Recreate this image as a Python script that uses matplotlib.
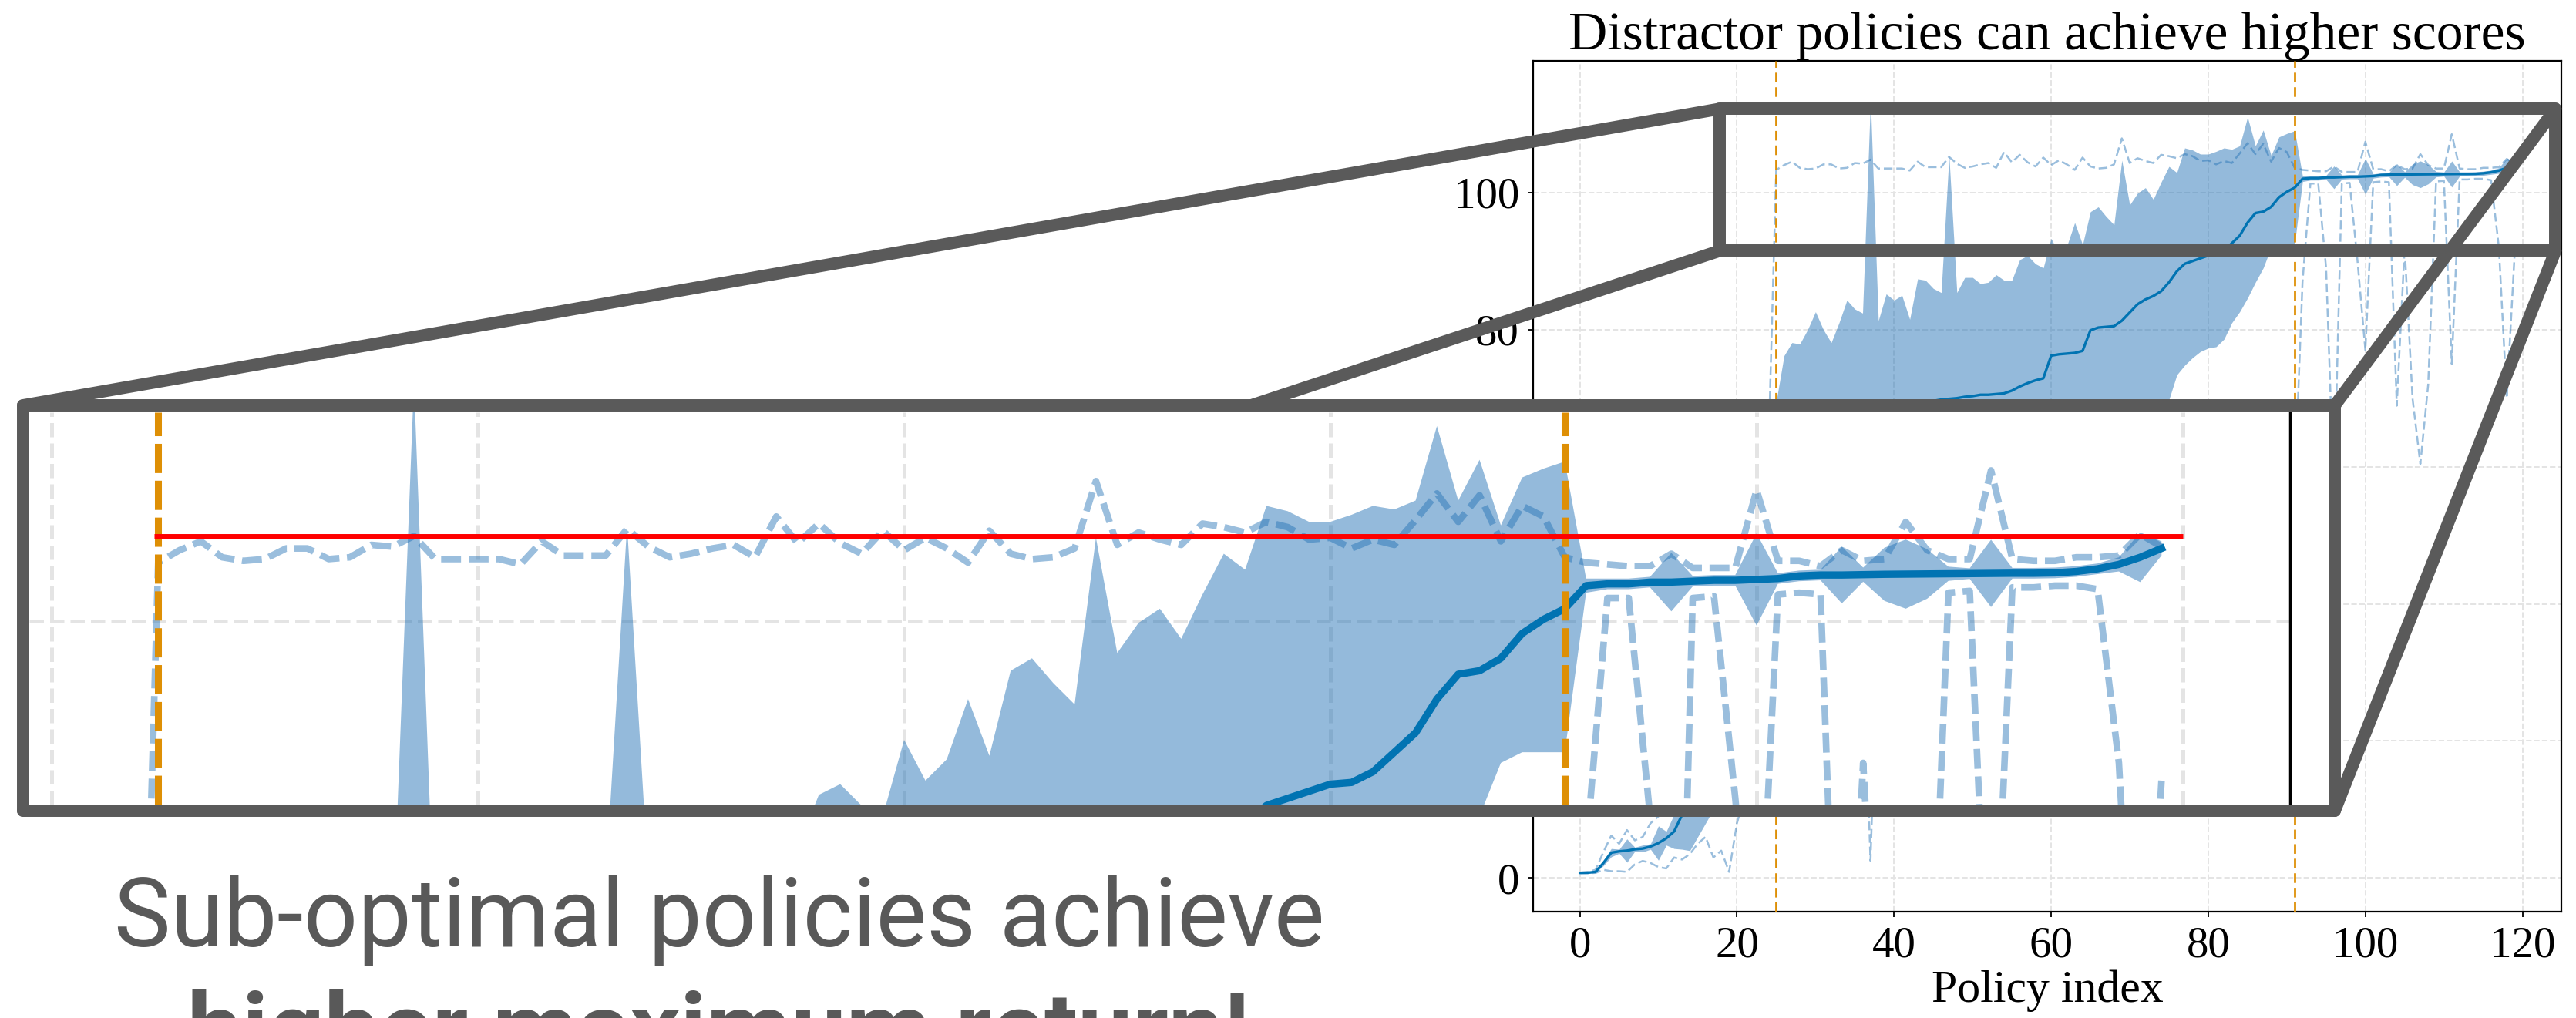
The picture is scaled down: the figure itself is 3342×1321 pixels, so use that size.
import numpy as np
import matplotlib
matplotlib.use("Agg")
import matplotlib.pyplot as plt
from matplotlib.lines import Line2D
from matplotlib.patches import Rectangle
from matplotlib.ticker import MultipleLocator

W, H, DPI = 3342, 1321, 100

policy = np.arange(120)

mean_return = [
    0.76, 0.78, 0.9, 2.2, 3.7, 3.9, 4.0, 4.2, 4.3, 4.6, 5.1, 5.8, 6.8, 9.2, 12.5,
    16.0, 19.0, 22.0, 25.0, 28.0, 31.0, 34.0, 38.0, 42.0, 46.0,
    50.0, 52.0, 54.0, 55.5, 57.0, 58.0, 59.0, 60.0, 61.0, 62.0, 63.0, 63.8, 64.5,
    65.2, 66.0, 66.7, 67.3, 67.9, 68.5, 69.2,
    69.6, 69.8, 69.9, 70.0, 70.2, 70.3, 70.5, 70.5, 70.6, 70.7, 71.1, 71.7, 72.2,
    72.6, 72.9,
    76.2, 76.4, 76.5, 76.6, 76.9, 79.9, 80.3, 80.4, 80.5, 81.3, 82.5, 83.7, 84.4,
    84.9, 85.6, 86.9, 88.5, 89.6, 90.0, 90.4, 90.8, 90.9, 91.5, 92.6, 93.7, 95.6,
    97.0, 97.2, 97.9, 99.3, 100.1, 100.7,
    102.0, 102.1, 102.1, 102.2, 102.2, 102.25, 102.3, 102.3, 102.35, 102.4,
    102.55, 102.6, 102.6, 102.62, 102.64, 102.65, 102.66, 102.67, 102.68, 102.69,
    102.7, 102.7, 102.72, 102.8, 102.95, 103.2, 103.6, 104.1,
]

band_upper = [
    0.81, 0.83, 1.0, 2.6, 4.3, 4.2, 5.7, 4.5, 4.8, 5.0, 7.6, 6.8, 9.3, 14.2, 21.0,
    26.0, 30.0, 34.0, 38.0, 42.0, 46.0, 50.0, 55.0, 60.0, 64.0,
    69.5, 76.2, 78.1, 77.9, 80.0, 82.6, 80.0, 78.1, 81.0, 84.3, 83.0, 82.4, 113.5,
    81.3, 85.2, 84.3, 85.0, 81.5, 87.4, 87.2,
    86.0, 85.4, 105.4, 85.4, 87.6, 87.6, 86.7, 86.9, 88.0, 87.2, 87.2, 90.2, 90.8,
    89.6, 89.0,
    93.3, 91.0, 92.2, 95.6, 92.4, 97.2, 97.9, 96.5, 95.3, 104.7, 98.2, 99.9, 100.7,
    99.0, 101.5, 103.8, 102.9, 106.5, 106.2, 105.6, 105.6, 106.0, 106.5, 106.3,
    106.8, 111.0, 106.8, 109.1, 105.4, 108.1, 108.6, 109.0,
    102.4, 102.4, 102.4, 102.5, 103.85, 102.55, 102.6, 102.6, 104.95, 102.7,
    102.85, 102.9, 104.2, 103.02, 104.14, 104.6, 104.06, 103.07, 102.98, 104.59,
    103.0, 103.0, 103.02, 103.1, 103.25, 103.6, 105.0, 104.5,
]

band_lower = [
    0.71, 0.73, 0.8, 1.8, 3.1, 3.6, 2.3, 3.9, 3.8, 4.2, 2.6, 4.8, 4.3, 4.2, 4.0,
    6.0, 8.0, 10.0, 12.0, 14.0, 16.0, 18.0, 21.0, 24.0, 28.0,
    30.5, 27.8, 29.9, 33.1, 34.0, 33.4, 38.0, 41.9, 41.0, 39.7, 43.0, 45.2, 15.5,
    49.1, 46.8, 49.1, 49.6, 54.3, 49.6, 51.2,
    53.2, 54.2, 34.4, 54.6, 52.8, 53.0, 54.3, 54.1, 53.2, 54.2, 55.0, 53.2, 53.6,
    55.6, 56.8,
    58.0, 59.0, 59.5, 58.0, 60.0, 61.0, 62.0, 63.0, 64.0, 60.0, 64.5, 65.0, 66.0,
    67.0, 68.0, 69.8, 73.4, 74.8, 75.9, 76.8, 77.3, 77.5, 78.6, 81.0, 82.6, 84.6,
    86.9, 89.0, 92.0, 92.6, 92.6, 92.6,
    101.6, 101.8, 101.8, 101.9, 100.55, 101.95, 102.0, 102.0, 99.75, 102.1,
    102.25, 102.3, 101.0, 102.22, 101.14, 100.7, 101.26, 102.27, 102.38, 100.79,
    102.4, 102.4, 102.42, 102.5, 102.65, 102.8, 102.2, 103.7,
]

min_return = [
    0.7, 0.7, 0.75, 1.2, 1.0, 1.0, 0.9, 2.0, 2.5, 2.2, 1.6, 1.4, 3.0, 2.7, 3.5,
    5.0, 6.0, 3.0, 4.0, 0.9, 8.0, 12.0, 16.0, 20.0, 25.0,
    20.0, 22.0, 24.0, 26.0, 28.0, 30.0, 32.0, 33.0, 34.0, 35.0, 36.0, 37.0, 2.5,
    38.0, 39.0, 40.0, 41.0, 42.0, 43.0, 44.0,
    45.0, 45.0, 12.0, 46.0, 46.0, 47.0, 47.0, 48.0, 48.0, 49.0, 49.0, 50.0, 50.0,
    51.0, 51.0,
    52.0, 52.0, 53.0, 53.0, 54.0, 54.0, 55.0, 55.0, 56.0, 50.0, 56.0, 57.0, 57.0,
    58.0, 58.0, 59.0, 59.0, 60.0, 60.0, 61.0, 61.0, 62.0, 62.0, 63.0, 63.0, 64.0,
    64.0, 65.0, 65.0, 66.0, 62.0, 57.0,
    87.0, 101.3, 101.3, 89.0, 56.0, 101.3, 101.4, 90.0, 77.0, 101.5,
    101.6, 101.5, 68.9, 92.0, 70.0, 60.4, 72.0, 101.6, 101.7, 75.0,
    101.9, 101.9, 102.0, 102.0, 101.8, 92.0, 70.0, 91.0,
]

max_return = [
    0.8, 0.9, 1.2, 3.8, 6.2, 5.0, 7.0, 5.5, 6.0, 8.0, 9.0, 11.0, 15.0, 20.0, 25.0,
    30.0, 35.0, 40.0, 45.0, 50.0, 52.0, 55.0, 57.0, 60.0, 62.0,
    103.3, 104.0, 104.5, 103.6, 103.4, 103.5, 104.1, 104.1, 103.5, 103.6, 104.3,
    104.2, 104.8, 103.5, 103.5, 103.5, 103.5, 103.2, 104.5, 103.7,
    103.7, 103.7, 105.2, 104.2, 103.6, 103.8, 104.1, 104.3, 103.6, 105.9, 104.4,
    105.5, 104.4, 103.8, 105.1,
    104.0, 104.7, 104.1, 103.3, 105.1, 103.8, 103.5, 103.6, 104.1, 107.9, 104.3,
    105.0, 104.6, 104.3, 105.5, 105.3, 105.0, 105.6, 105.3, 104.6, 104.7, 104.1,
    104.6, 104.3, 105.7, 107.2, 105.6, 107.1, 104.5, 106.5, 105.9, 103.6,
    103.3, 103.2, 103.1, 103.1, 103.8, 103.0, 103.0, 103.0, 107.4, 103.4,
    103.4, 103.1, 104.0, 103.4, 103.5, 105.6, 104.0, 103.5, 103.5, 108.5,
    103.5, 103.4, 103.4, 103.6, 103.6, 103.7, 104.9, 104.2,
]

group_edges = [25, 91]
best_return = 104.8
best_span = (24.8, 120.0)

MEAN_C = "#0173b2"
BAND_C = "#1f6fb4"
EDGE_C = "#de8f05"
FRAME_C = "#5a5a5a"
GRID_C = "#e4e4e4"
SERIF = "Liberation Serif"


def draw_returns(ax, mean_lw=2.4, dash_lw=1.8, edge_lw=2.0, dash=(4.5, 2.0),
                 edge_dash=(4.5, 2.3), grid_lw=1.4):
    ax.grid(True, color=GRID_C, linestyle="--", linewidth=grid_lw, zorder=0)
    ax.set_axisbelow(True)
    ax.fill_between(policy, band_lower, band_upper, color=BAND_C, alpha=0.48,
                    linewidth=0, zorder=2)
    for series in (min_return, max_return):
        ax.plot(policy, series, color=BAND_C, alpha=0.45, linewidth=dash_lw,
                linestyle=(0, dash), zorder=3)
    ax.plot(policy, mean_return, color=MEAN_C, linewidth=mean_lw, zorder=4)
    for edge in group_edges:
        ax.axvline(edge, color=EDGE_C, linewidth=edge_lw,
                   linestyle=(0, edge_dash), zorder=5)
    ax.xaxis.set_major_locator(MultipleLocator(20))
    ax.yaxis.set_major_locator(MultipleLocator(20))


fig = plt.figure(figsize=(W / DPI, H / DPI), dpi=DPI)

# main panel
ax = fig.add_axes([1989 / W, 1 - 1183 / H, (3323 - 1989) / W, (1183 - 79) / H])
draw_returns(ax)
ax.set_xlim(-5.95, 124.95)
ax.set_ylim(-4.9, 119.2)
for sp in ax.spines.values():
    sp.set_linewidth(1.6)
    sp.set_color("black")
ax.tick_params(labelsize=41, length=5, width=1.3, pad=8)
for lab in ax.get_xticklabels() + ax.get_yticklabels():
    lab.set_family(SERIF)
ax.set_title("Distractor policies can achieve higher scores", fontsize=50,
             family=SERIF, pad=10)
ax.set_xlabel("Policy index", fontsize=43, family=SERIF, labelpad=4)

# zoomed panel, drawn over the left part of the figure
axz = fig.add_axes([38 / W, 1 - 1044 / H, (2971 - 38) / W, (1044 - 535) / H])
axz.set_zorder(3)
draw_returns(axz, mean_lw=6.8, dash_lw=6.2, edge_lw=6.5, dash=(3.0, 1.15),
             edge_dash=(4.2, 1.1), grid_lw=3.6)
axz.hlines(best_return, *best_span, color="red", linewidth=5, zorder=6)
axz.set_xlim(18.95, 125.03)
axz.set_ylim(89.65, 111.78)
axz.tick_params(left=False, bottom=False, labelleft=False, labelbottom=False)
for side in ("left", "top", "bottom"):
    axz.spines[side].set_visible(False)
axz.spines["right"].set_linewidth(2.5)


def to_fig(x, y):
    return x / W, 1 - y / H


# source box on the main panel, in its data coordinates
src = (ax.transData + fig.transFigure.inverted()).transform(
    [(17.8, 91.5), (124.2, 112.2)])
(sx0, sy0), (sx1, sy1) = src
# zoomed panel frame, figure pixels
zx0, zy0 = to_fig(30, 1052)
zx1, zy1 = to_fig(3029, 526)

frame_lw = 11.5
fig.patches.append(Rectangle((sx0, sy0), sx1 - sx0, sy1 - sy0, transform=fig.transFigure,
                             fill=False, edgecolor=FRAME_C, linewidth=frame_lw,
                             joinstyle="round", zorder=1.5))
for (ax0, ay0), (bx0, by0) in [((zx0, zy1), (sx0, sy1)), ((zx0, zy0), (sx0, sy0)),
                               ((zx1, zy1), (sx1, sy1)), ((zx1, zy0), (sx1, sy0))]:
    fig.lines.append(Line2D([ax0, bx0], [ay0, by0], transform=fig.transFigure,
                            color=FRAME_C, linewidth=frame_lw,
                            solid_capstyle="round", zorder=1.5))
fig.patches.append(Rectangle((zx0, zy0), zx1 - zx0, zy1 - zy0, transform=fig.transFigure,
                             facecolor="white", edgecolor="none", zorder=2))
fig.patches.append(Rectangle((zx0, zy0), zx1 - zx0, zy1 - zy0, transform=fig.transFigure,
                             fill=False, edgecolor=FRAME_C, linewidth=frame_lw,
                             joinstyle="round", zorder=4))


def fitted_text(x, y, s, width, **kw):
    """Place a caption line and scale its size to span the given pixel width."""
    t = fig.text(x, y, s, ha="center", va="baseline", fontsize=88, **kw)
    fig.canvas.draw()
    t.set_fontsize(88 * width / t.get_window_extent().width)
    return t


cap_style = dict(family="Roboto", color="#595959", zorder=5)
fitted_text(*to_fig(933, 1228), "Sub-optimal policies achieve", 1571, **cap_style)
fitted_text(*to_fig(932, 1378), "higher maximum return!", 1380, weight="bold",
            **cap_style)

fig.savefig("out.png", dpi=DPI)
